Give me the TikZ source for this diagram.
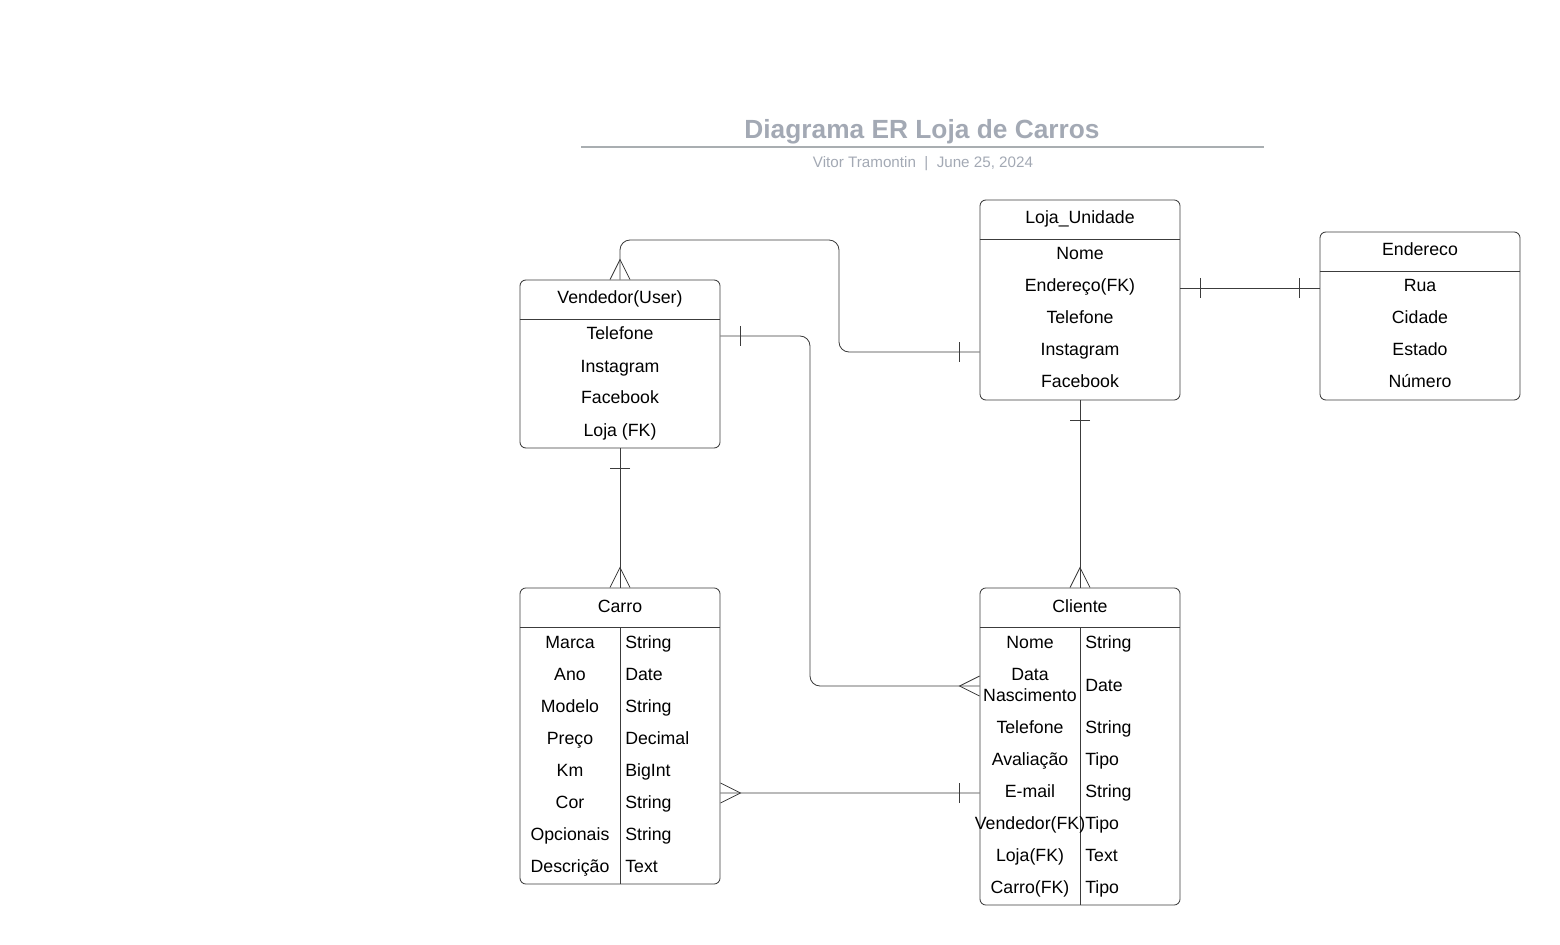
\documentclass[tikz,border=0pt]{standalone}
\usepackage{fontspec}
\setmainfont{Liberation Sans}
\usetikzlibrary{calc}

\definecolor{titlegray}{HTML}{A3A9B4}
\definecolor{rulegray}{HTML}{A9AEB1}
\definecolor{linegray}{HTML}{3C3C3C}

\tikzset{
  entity/.style = {draw=linegray, line width=0.6pt, rounded corners=0.15cm,
    minimum width=5cm, inner sep=0pt},
  attr/.style = {anchor=base, font=\fontsize{12.6}{15}\selectfont},
  attrtype/.style = {attr, anchor=base west, inner sep=0pt},
  link/.style = {draw=linegray, line width=0.6pt, rounded corners=0.25cm},
  many/.pic = {\draw[linegray, line width=0.6pt] (0,-10) -- (20,0) -- (0,10);},
  one/.pic = {\draw[linegray, line width=0.6pt] (20,-10) -- (20,10);}
}

\begin{document}
\begin{tikzpicture}[x=0.025cm, y=-0.025cm]
\useasboundingbox (0,0) rectangle (1560,945);

% title
\node[anchor=base, text=titlegray, font={\fontsize{18.7}{22}\selectfont\bfseries}]
  (title) at (922,139) {Diagrama ER Loja de Carros};
\draw[rulegray, line width=1.1pt] (581,147) -- (1264,147);
\node[anchor=base, text=titlegray, font=\fontsize{10.8}{13}\selectfont]
  (sub) at (923,168) {Vitor Tramontin \ | \ June 25, 2024};

% entities
\node[entity, minimum height=4.2cm] (vend) at (620,364) {};
\node[entity, minimum height=5cm] (loja) at (1080,300) {};
\node[entity, minimum height=4.2cm] (ender) at (1420,316) {};
\node[entity, minimum height=7.4cm] (carro) at (620,736) {};
\node[entity, minimum height=7.925cm] (cli) at (1080,746.5) {};

% header lines and columns
\draw[linegray, line width=0.6pt] ($(vend.north west)+(0,40)$) -- ($(vend.north east)+(0,40)$);
\draw[linegray, line width=0.6pt] ($(loja.north west)+(0,40)$) -- ($(loja.north east)+(0,40)$);
\draw[linegray, line width=0.6pt] ($(ender.north west)+(0,40)$) -- ($(ender.north east)+(0,40)$);
\draw[linegray, line width=0.6pt] ($(carro.north west)+(0,40)$) -- ($(carro.north east)+(0,40)$);
\draw[linegray, line width=0.6pt] ($(cli.north west)+(0,40)$) -- ($(cli.north east)+(0,40)$);
\draw[linegray, line width=0.6pt] ($(carro.north)+(0,40)$) -- (carro.south);
\draw[linegray, line width=0.6pt] ($(cli.north)+(0,40)$) -- (cli.south);

% headers
\node[attr] (vendH) at (620,304) {Vendedor(User)};
\node[attr] (lojaH) at (1080,224) {Loja\_Unidade};
\node[attr] (enderH) at (1420,256) {Endereco};
\node[attr] (carroH) at (620,612) {Carro};
\node[attr] (cliH) at (1080,612) {Cliente};

% attributes
\foreach \a [count=\i] in {Telefone, Instagram, Facebook, Loja (FK)}
  \node[attr] (vend\i) at (620,308+32*\i) {\a};
\foreach \a [count=\i] in {Nome, Endereço(FK), Telefone, Instagram, Facebook}
  \node[attr] (loja\i) at (1080,228+32*\i) {\a};
\foreach \a [count=\i] in {Rua, Cidade, Estado, Número}
  \node[attr] (ender\i) at (1420,260+32*\i) {\a};
\foreach \a/\b [count=\i] in {Marca/String, Ano/Date, Modelo/String, Preço/Decimal,
    Km/BigInt, Cor/String, Opcionais/String, Descrição/Text}{
  \node[attr] (carA\i) at (570,616+32*\i) {\a};
  \node[attrtype] (carT\i) at (625,616+32*\i) {\b};
}
\node[attr] (cliA0) at (1030,648) {Nome};
\node[attrtype] (cliT0) at (1085,648) {String};
\node[font=\fontsize{12.6}{14.9}\selectfont, align=center, inner sep=0pt]
  (cliData) at (1030,685) {Data\\Nascimento};
\node[attrtype] (cliTData) at (1085,691) {Date};
\foreach \a/\b [count=\i] in {Telefone/String, Avaliação/Tipo, E-mail/String,
    Vendedor(FK)/Tipo, Loja(FK)/Text, Carro(FK)/Tipo}{
  \node[attr] (cliA\i) at (1030,701+32*\i) {\a};
  \node[attrtype] (cliT\i) at (1085,701+32*\i) {\b};
}

% relations
\draw[link] (vend.north) |- (839,240) |- ($(loja.west)+(0,52)$);
\pic[rotate=90] at (vend.north) {many};
\pic[rotate=180] at ($(loja.west)+(0,52)$) {one};

\draw[link] ($(vend.east)+(0,-28)$) -| (810,686) -- ($(cli.west)+(0,-60.5)$);
\pic at ($(vend.east)+(0,-28)$) {one};
\pic[rotate=180] at ($(cli.west)+(0,-60.5)$) {many};

\draw[link] ($(loja.east)+(0,-12)$) -- ($(ender.west)+(0,-28)$);
\pic at ($(loja.east)+(0,-12)$) {one};
\pic[rotate=180] at ($(ender.west)+(0,-28)$) {one};

\draw[link] (vend.south) -- (carro.north);
\pic[rotate=-90] at (vend.south) {one};
\pic[rotate=90] at (carro.north) {many};

\draw[link] (loja.south) -- (cli.north);
\pic[rotate=-90] at (loja.south) {one};
\pic[rotate=90] at (cli.north) {many};

\draw[link] ($(carro.east)+(0,57)$) -- ($(cli.west)+(0,46.5)$);
\pic at ($(carro.east)+(0,57)$) {many};
\pic[rotate=180] at ($(cli.west)+(0,46.5)$) {one};
\end{tikzpicture}
\end{document}
